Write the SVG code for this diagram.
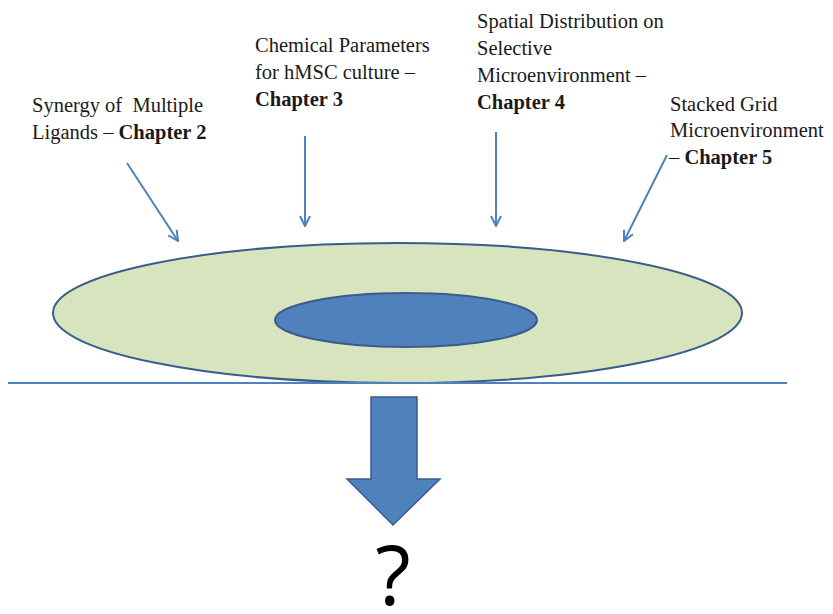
<svg xmlns="http://www.w3.org/2000/svg" width="833" height="614" viewBox="0 0 833 614">
<defs>
<style>
.t{font-family:"Liberation Serif","Times New Roman",serif;font-size:20.5px;fill:#1a1a1a}
.b{font-weight:bold}
.c{stroke:#4f81bd;stroke-width:2;fill:none}
</style>
<marker id="ah" viewBox="0 0 12 12" refX="11" refY="6" markerWidth="12" markerHeight="12" markerUnits="userSpaceOnUse" orient="auto">
<path d="M1,1 L11,6 L1,11" fill="none" stroke="#4f81bd" stroke-width="2"/>
</marker>
</defs>
<rect width="833" height="614" fill="#fff"/>
<g id="cell">
<ellipse cx="397.5" cy="313" rx="344.5" ry="70" fill="#d7e4bd" stroke="#385d8a" stroke-width="2"/>
</g>
<g id="nucleus">
<ellipse cx="406" cy="320" rx="131" ry="27" fill="#4f81bd" stroke="#385d8a" stroke-width="2"/>
</g>
<g id="surface">
<line x1="8" y1="383" x2="787" y2="383" stroke="#4f81bd" stroke-width="2"/>
</g>
<g id="label-ch2">
<text class="t" x="32" y="112">Synergy of&#160; Multiple</text>
<text class="t" x="32" y="139">Ligands – <tspan class="b">Chapter 2</tspan></text>
</g>
<g id="label-ch3">
<text class="t" x="255" y="52">Chemical Parameters</text>
<text class="t" x="255" y="79">for hMSC culture –</text>
<text class="t b" x="255" y="106">Chapter 3</text>
</g>
<g id="label-ch4">
<text class="t" x="477" y="28">Spatial Distribution on</text>
<text class="t" x="477" y="55">Selective</text>
<text class="t" x="477" y="82">Microenvironment –</text>
<text class="t b" x="477" y="109">Chapter 4</text>
</g>
<g id="label-ch5">
<text class="t" x="670" y="111">Stacked Grid</text>
<text class="t" x="670" y="137">Microenvironment</text>
<text class="t" x="669" y="164">– <tspan class="b">Chapter 5</tspan></text>
</g>
<g id="connectors">
<line class="c" x1="127" y1="163" x2="178" y2="241" marker-end="url(#ah)"/>
<line class="c" x1="305" y1="136" x2="305" y2="226" marker-end="url(#ah)"/>
<line class="c" x1="496" y1="132" x2="496" y2="226" marker-end="url(#ah)"/>
<line class="c" x1="667" y1="155" x2="624" y2="241" marker-end="url(#ah)"/>
</g>
<g id="result-arrow">
<polygon points="371,397 417,397 417,479 440,479 393,525 347,479 371,479" fill="#4f81bd" stroke="#385d8a" stroke-width="1.5"/>
</g>
<g id="question">
<text x="393" y="605" text-anchor="middle" style="font-family:'Open Sans','Liberation Sans',sans-serif;font-size:82px;fill:#000">?</text>
</g>
</svg>
